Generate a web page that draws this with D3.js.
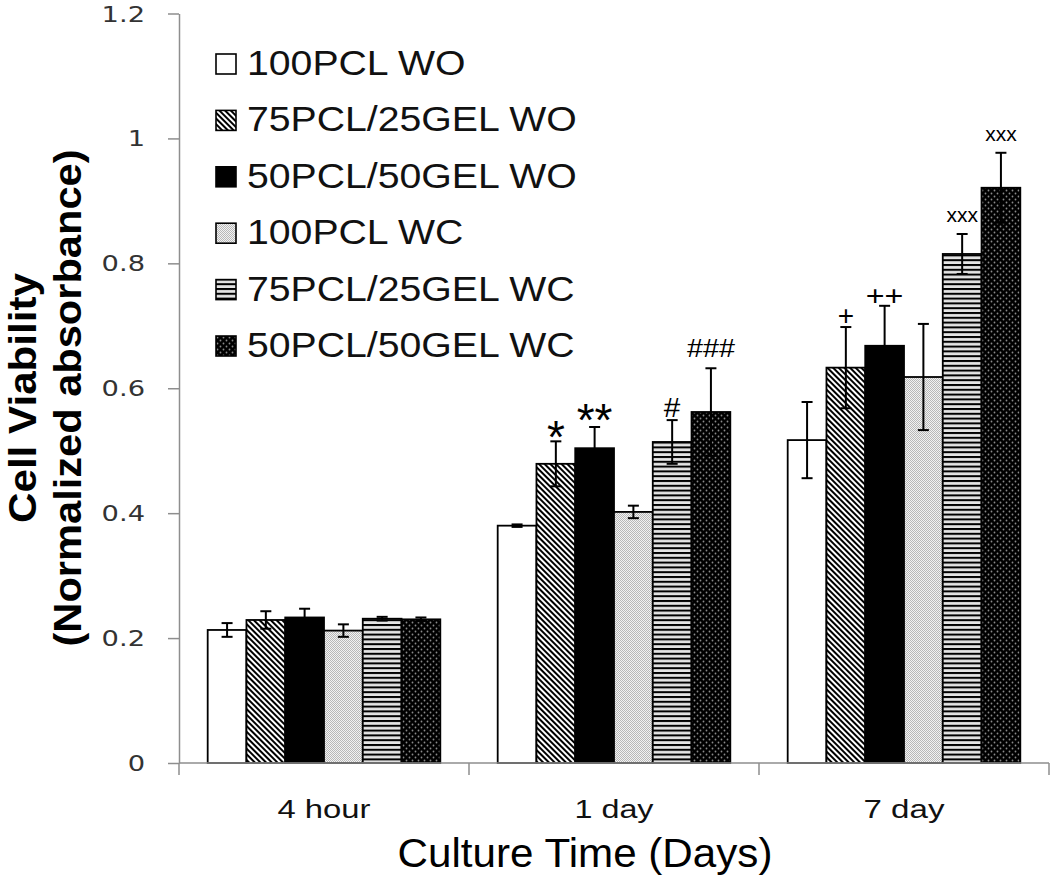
<!DOCTYPE html>
<html><head><meta charset="utf-8">
<script src="https://cdn.jsdelivr.net/npm/d3@7"></script>
<style>body{margin:0;background:#fff} svg{display:block}</style>
</head><body>
<svg id="c" width="1050" height="876"></svg>
<script>
// ---------------- data ----------------
const categories = ["4 hour", "1 day", "7 day"];
const seriesNames = ["100PCL WO", "75PCL/25GEL WO", "50PCL/50GEL WO", "100PCL WC", "75PCL/25GEL WC", "50PCL/50GEL WC"];
const pcl100WO = [0.213, 0.380, 0.517];
const pcl75WO  = [0.229, 0.479, 0.633];
const pcl50WO  = [0.233, 0.504, 0.668];
const pcl100WC = [0.212, 0.402, 0.618];
const pcl75WC  = [0.231, 0.514, 0.815];
const pcl50WC  = [0.230, 0.562, 0.921];
const err100WO = [0.011, 0.002, 0.061];
const err75WO  = [0.014, 0.036, 0.065];
const err50WO  = [0.014, 0.034, 0.064];
const err100WC = [0.010, 0.010, 0.085];
const err75WC  = [0.003, 0.035, 0.032];
const err50WC  = [0.003, 0.070, 0.056];
const sig100WO = ["", "", ""];
const sig75WO  = ["", "*", "+"];
const sig50WO  = ["", "**", "++"];
const sig100WC = ["", "", ""];
const sig75WC  = ["", "#", "xxx"];
const sig50WC  = ["", "###", "xxx"];
const yTicks = [0, 0.2, 0.4, 0.6, 0.8, 1, 1.2];
const xTitle = "Culture Time (Days)";
const yTitle1 = "Cell Viability";
const yTitle2 = "(Normalized absorbance)";

const values = [pcl100WO, pcl75WO, pcl50WO, pcl100WC, pcl75WC, pcl50WC];
const errors = [err100WO, err75WO, err50WO, err100WC, err75WC, err50WC];
const sigs = [sig100WO, sig75WO, sig50WO, sig100WC, sig75WC, sig50WC];

// ---------------- drawing ----------------
const svg = d3.select("#c");
const FONT = "'Liberation Sans', Arial, sans-serif";
const NARROW = "'Liberation Sans Narrow', 'Arial Narrow', 'Liberation Sans', Arial, sans-serif";

function fit(sel, target) {
  sel.each(function (d, i) {
    const w = this.getComputedTextLength();
    const t = typeof target === "function" ? target(w, d, i) : target;
    d3.select(this).attr("textLength", t).attr("lengthAdjust", "spacingAndGlyphs");
  });
}

// patterns
const defs = svg.append("defs");
const pDiag = defs.append("pattern").attr("id", "pat1").attr("patternUnits", "userSpaceOnUse")
  .attr("width", 4).attr("height", 4).attr("patternTransform", "rotate(-45)");
pDiag.append("rect").attr("width", 4).attr("height", 4).attr("fill", "#fff");
pDiag.append("rect").attr("width", 2).attr("height", 4).attr("fill", "#000");

const pLight = defs.append("pattern").attr("id", "pat3").attr("patternUnits", "userSpaceOnUse")
  .attr("width", 2).attr("height", 2);
pLight.append("rect").attr("width", 2).attr("height", 2).attr("fill", "#f2f2f2");
pLight.append("rect").attr("width", 1).attr("height", 1).attr("fill", "#b8b8b8");
pLight.append("rect").attr("x", 1).attr("y", 1).attr("width", 1).attr("height", 1).attr("fill", "#b8b8b8");

const pHor = defs.append("pattern").attr("id", "pat4").attr("patternUnits", "userSpaceOnUse")
  .attr("width", 10).attr("height", 4.8);
pHor.append("rect").attr("width", 10).attr("height", 4.8).attr("fill", "#e4e4e4");
pHor.append("rect").attr("width", 10).attr("height", 2).attr("fill", "#000");

const pDot = defs.append("pattern").attr("id", "pat5").attr("patternUnits", "userSpaceOnUse")
  .attr("width", 6).attr("height", 6);
pDot.append("rect").attr("width", 6).attr("height", 6).attr("fill", "#000");
pDot.append("circle").attr("cx", 1.5).attr("cy", 1.5).attr("r", 0.9).attr("fill", "#8a8a8a");
pDot.append("circle").attr("cx", 4.5).attr("cy", 4.5).attr("r", 0.9).attr("fill", "#8a8a8a");

const fills = ["#fff", "url(#pat1)", "#000", "url(#pat3)", "url(#pat4)", "url(#pat5)"];

// scales
const x0 = d3.scaleBand().domain(categories).range([179, 1049]).paddingInner(0).paddingOuter(0);
const x1 = d3.scaleBand().domain(seriesNames).range([0, x0.bandwidth()]).paddingOuter(0.74).paddingInner(0);
const y = d3.scaleLinear().domain([0, 1.2]).range([763, 13.5]);

const axisColor = "#8e8e8e";

// y axis
const yAxis = svg.append("g").attr("transform", "translate(179,0)")
  .call(d3.axisLeft(y).tickValues(yTicks).tickSize(11).tickSizeOuter(0).tickPadding(23).tickFormat(d3.format("~g")));
yAxis.select(".domain").attr("stroke", axisColor).attr("stroke-width", 1.5);
yAxis.selectAll(".tick line").attr("stroke", axisColor).attr("stroke-width", 1.5);
yAxis.selectAll(".tick text").attr("font-family", "'DejaVu Sans', sans-serif").attr("font-size", 21)
  .attr("fill", "#333").attr("dy", "0.36em");
fit(yAxis.selectAll(".tick text"), w => w * 1.3);

// bars
const data = [];
categories.forEach((c, ci) => {
  seriesNames.forEach((s, si) => {
    data.push({ c, s, si, v: values[si][ci], e: errors[si][ci], sig: sigs[si][ci] });
  });
});

const bars = svg.append("g");
bars.selectAll("rect").data(data).join("rect")
  .attr("x", d => x0(d.c) + x1(d.s))
  .attr("y", d => y(d.v))
  .attr("width", x1.bandwidth())
  .attr("height", d => y(0) - y(d.v))
  .attr("fill", d => fills[d.si])
  .attr("stroke", "#000").attr("stroke-width", 1.8);

// x axis
const xg = svg.append("g");
xg.append("line").attr("x1", x0.range()[0]).attr("x2", x0.range()[1])
  .attr("y1", y(0)).attr("y2", y(0)).attr("stroke", axisColor).attr("stroke-width", 1.5);
const bounds = categories.map(c => x0(c)).concat([x0(categories[categories.length - 1]) + x0.bandwidth()]);
xg.selectAll(".xt").data(bounds).join("line").attr("class", "xt")
  .attr("x1", d => d).attr("x2", d => d).attr("y1", y(0)).attr("y2", y(0) + 12)
  .attr("stroke", axisColor).attr("stroke-width", 1.5);
const catWidths = [93, 79, 81];
xg.selectAll(".xl").data(categories).join("text").attr("class", "xl")
  .attr("x", d => x0(d) + x0.bandwidth() / 2).attr("y", 818)
  .attr("text-anchor", "middle").attr("font-family", FONT).attr("font-size", 25).attr("fill", "#111")
  .text(d => d);
fit(xg.selectAll(".xl"), (w, d, i) => catWidths[i]);

// error bars
const eb = svg.append("g").attr("stroke", "#000").attr("stroke-width", 2);
const cx = d => x0(d.c) + x1(d.s) + x1.bandwidth() / 2;
eb.selectAll(".ev").data(data).join("line").attr("class", "ev")
  .attr("x1", cx).attr("x2", cx).attr("y1", d => y(d.v - d.e)).attr("y2", d => y(d.v + d.e));
eb.selectAll(".et").data(data).join("line").attr("class", "et")
  .attr("x1", d => cx(d) - 5.5).attr("x2", d => cx(d) + 5.5).attr("y1", d => y(d.v + d.e)).attr("y2", d => y(d.v + d.e));
eb.selectAll(".eb").data(data).join("line").attr("class", "eb")
  .attr("x1", d => cx(d) - 5.5).attr("x2", d => cx(d) + 5.5).attr("y1", d => y(d.v - d.e)).attr("y2", d => y(d.v - d.e));

// significance marks
const sigStyle = {
  "*":   { size: 46, dy: 12, stretch: 1.0 },
  "**":  { size: 46, dy: 9, stretch: 1.0 },
  "#":   { size: 27, dy: -3, stretch: 1.1 },
  "###": { size: 25, dy: -11, stretch: 1.15 },
  "+":   { size: 28, dy: -2, stretch: 1.0 },
  "++":  { size: 28, dy: -1, stretch: 1.15 },
  "xxx": { size: 20, dy: -12, stretch: 1.05 }
};
const sg = svg.append("g");
sg.selectAll("text").data(data.filter(d => d.sig)).join("text")
  .attr("x", cx).attr("y", d => y(d.v + d.e) + sigStyle[d.sig].dy)
  .attr("text-anchor", "middle").attr("font-family", FONT)
  .attr("font-size", d => sigStyle[d.sig].size).attr("fill", "#000")
  .text(d => d.sig);
fit(sg.selectAll("text"), (w, d) => w * sigStyle[d.sig].stretch);

// legend
const lg = svg.append("g");
const legRow = i => 75 + i * 56.4;
lg.selectAll("rect").data(seriesNames).join("rect")
  .attr("x", 216).attr("y", (d, i) => legRow(i) - 21).attr("width", 20).attr("height", 20)
  .attr("fill", (d, i) => fills[i]).attr("stroke", "#000").attr("stroke-width", 1.6);
lg.selectAll("text").data(seriesNames).join("text")
  .attr("x", 247).attr("y", (d, i) => legRow(i))
  .attr("font-family", FONT).attr("font-size", 35).attr("fill", "#111")
  .text(d => d);
fit(lg.selectAll("text"), w => w * 1.12);

// axis titles
const xt = svg.append("text").attr("x", 585).attr("y", 867).attr("text-anchor", "middle")
  .attr("font-family", NARROW).attr("font-size", 41).attr("fill", "#000").text(xTitle);
fit(xt, 375);

const yt1 = svg.append("text").attr("transform", "translate(36,398) rotate(-90)")
  .attr("text-anchor", "middle").attr("font-family", NARROW).attr("font-weight", "bold")
  .attr("font-size", 39).attr("fill", "#000").text(yTitle1);
fit(yt1, 250);
const yt2 = svg.append("text").attr("transform", "translate(81,398) rotate(-90)")
  .attr("text-anchor", "middle").attr("font-family", NARROW).attr("font-weight", "bold")
  .attr("font-size", 39).attr("fill", "#000").text(yTitle2);
fit(yt2, 497);
</script>
</body></html>
